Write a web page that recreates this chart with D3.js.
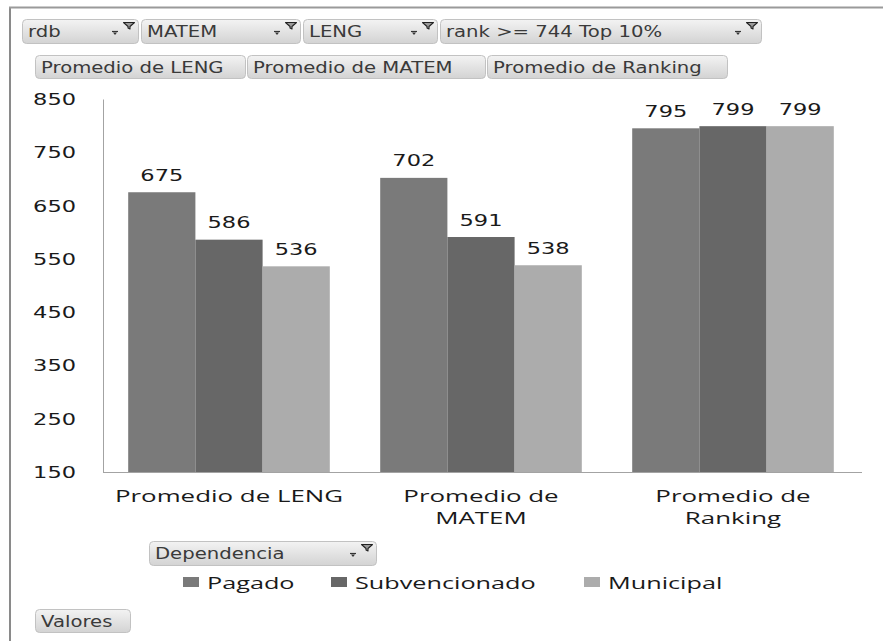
<!DOCTYPE html>
<html><head><meta charset="utf-8">
<script src="https://cdn.jsdelivr.net/npm/d3@7"></script>
<style>body{margin:0;background:#fff}svg{display:block}</style>
</head><body>
<svg id="c" width="883" height="641"></svg>
<script>
// ---------- data ----------
const categories = ["Promedio de LENG", "Promedio de MATEM", "Promedio de Ranking"];
const categoryLines = [["Promedio de LENG"], ["Promedio de", "MATEM"], ["Promedio de", "Ranking"]];
const seriesNames = ["Pagado", "Subvencionado", "Municipal"];
const pagado = [675, 702, 795];
const subvencionado = [586, 591, 799];
const municipal = [536, 538, 799];
const yTicks = [150, 250, 350, 450, 550, 650, 750, 850];
const filterLabels = ["rdb", "MATEM", "LENG", "rank >= 744 Top 10%"];
const valueButtons = ["Promedio de LENG", "Promedio de MATEM", "Promedio de Ranking"];
const legendField = "Dependencia";
const valuesField = "Valores";

// ---------- layout / style ----------
const colors = {Pagado: "#7a7a7a", Subvencionado: "#676767", Municipal: "#acacac"};
const NUM = {font: "'DejaVu Sans', Verdana, sans-serif", size: 15, sx: 1.5, fill: "#1a1a1a"};
const CAT = {font: "'Open Sans', sans-serif", size: 16.5, sx: 1.57, fill: "#1a1a1a"};
const LEG = {font: "'Open Sans', sans-serif", size: 16.5, sx: 1.53, fill: "#1a1a1a"};
const BTN = {font: "'DejaVu Sans', Tahoma, sans-serif", size: 15, sx: 1.31, fill: "#3a3a3a"};

const svg = d3.select("#c");
const defs = svg.append("defs");
const grad = defs.append("linearGradient").attr("id", "bg").attr("x1", 0).attr("y1", 0).attr("x2", 0).attr("y2", 1);
grad.append("stop").attr("offset", "0%").attr("stop-color", "#f3f3f3");
grad.append("stop").attr("offset", "100%").attr("stop-color", "#d3d3d3");

function stext(g, x, y, s, o, anchor) {
  return g.append("text")
    .attr("transform", `translate(${x},${y}) scale(${o.sx},1)`)
    .attr("text-anchor", anchor || "start")
    .style("font-family", o.font).style("font-size", o.size + "px")
    .attr("fill", o.fill).text(s);
}

function button(x1, x2, y1, y2, label, funnel) {
  const g = svg.append("g");
  g.append("rect").attr("x", x1 + 0.5).attr("y", y1 + 0.5).attr("width", x2 - x1 - 1).attr("height", y2 - y1 - 1)
    .attr("rx", 4).attr("fill", "url(#bg)").attr("stroke", "#c2c2c2");
  const h = y2 - y1;
  stext(g, x1 + 6, y1 + h / 2 + 5.5, label, BTN);
  if (funnel) {
    // funnel outline
    g.append("path").attr("d", `M${x2-15.5},${y1+3.5} L${x2-4.5},${y1+3.5} L${x2-9},${y1+7.5} L${x2-9},${y1+10} L${x2-11},${y1+9} L${x2-11},${y1+7.5} Z`)
      .attr("fill", "#9a9a9a").attr("stroke", "#222").attr("stroke-width", 1.1).attr("stroke-linejoin", "round");
    // dropdown marker
    g.append("path").attr("d", `M${x2-27},${y1+12.5} h6`).attr("stroke", "#333").attr("stroke-width", 1.2);
    g.append("path").attr("d", `M${x2-26},${y1+13.5} h4 l-2,2.5 z`).attr("fill", "#333");
  }
}

// frame
svg.append("line").attr("x1", 10).attr("x2", 10).attr("y1", 7).attr("y2", 641).attr("stroke", "#8a8a8a").attr("stroke-width", 2);
svg.append("line").attr("x1", 9).attr("x2", 883).attr("y1", 7.5).attr("y2", 7.5).attr("stroke", "#9a9a9a").attr("stroke-width", 2);

// filter buttons
const row1 = [[22, 139], [141, 301], [303, 438], [440, 762]];
filterLabels.forEach((l, i) => button(row1[i][0], row1[i][1], 19, 44, l, true));
const row2 = [[35, 246], [247, 486], [487, 728]];
valueButtons.forEach((l, i) => button(row2[i][0], row2[i][1], 55, 79, l, false));
button(149, 377, 541, 566, legendField, true);
button(35, 131, 609, 633, valuesField, false);

// ---------- chart ----------
const x = d3.scaleBand().domain(categories).range([103, 859]).paddingInner(0.2).paddingOuter(0.1);
const xs = d3.scaleBand().domain(seriesNames).range([0, x.bandwidth()]);
const y = d3.scaleLinear().domain([150, 850]).range([472, 99]);
const seriesValues = {Pagado: pagado, Subvencionado: subvencionado, Municipal: municipal};

const gy = svg.append("g").attr("transform", "translate(103,0)")
  .call(d3.axisLeft(y).tickValues(yTicks).tickSize(0).tickSizeOuter(0));
gy.select(".domain").attr("stroke", "#a3a3a3");
gy.selectAll(".tick text").remove();
gy.selectAll(".tick").each(function(d) {
  stext(d3.select(this), -27, 5.5, d, NUM, "end");
});

const gx = svg.append("g").attr("transform", "translate(0,472)")
  .call(d3.axisBottom(x).tickSize(0).tickSizeOuter(0).tickFormat(""));
gx.select(".domain").attr("stroke", "#a3a3a3").attr("d", "M103,0.5H862");

categories.forEach((c, i) => {
  const cx = x(c) + x.bandwidth() / 2;
  categoryLines[i].forEach((line, j) => stext(svg, cx, 501.5 + j * 22.5, line, CAT, "middle"));
});

const bars = svg.append("g");
seriesNames.forEach(s => {
  seriesValues[s].forEach((v, i) => {
    const bx = x(categories[i]) + xs(s);
    bars.append("rect").attr("x", bx).attr("y", y(v)).attr("width", xs.bandwidth())
      .attr("height", y(150) - y(v)).attr("fill", colors[s]);
    stext(bars, bx + xs.bandwidth() / 2, y(v) - 11.5, v, NUM, "middle");
  });
});

// legend
const legX = [183, 331, 584];
seriesNames.forEach((s, i) => {
  svg.append("rect").attr("x", legX[i]).attr("y", 577).attr("width", 16).attr("height", 10).attr("fill", colors[s]);
  stext(svg, legX[i] + 24, 588.5, s, LEG);
});
</script>
</body></html>
